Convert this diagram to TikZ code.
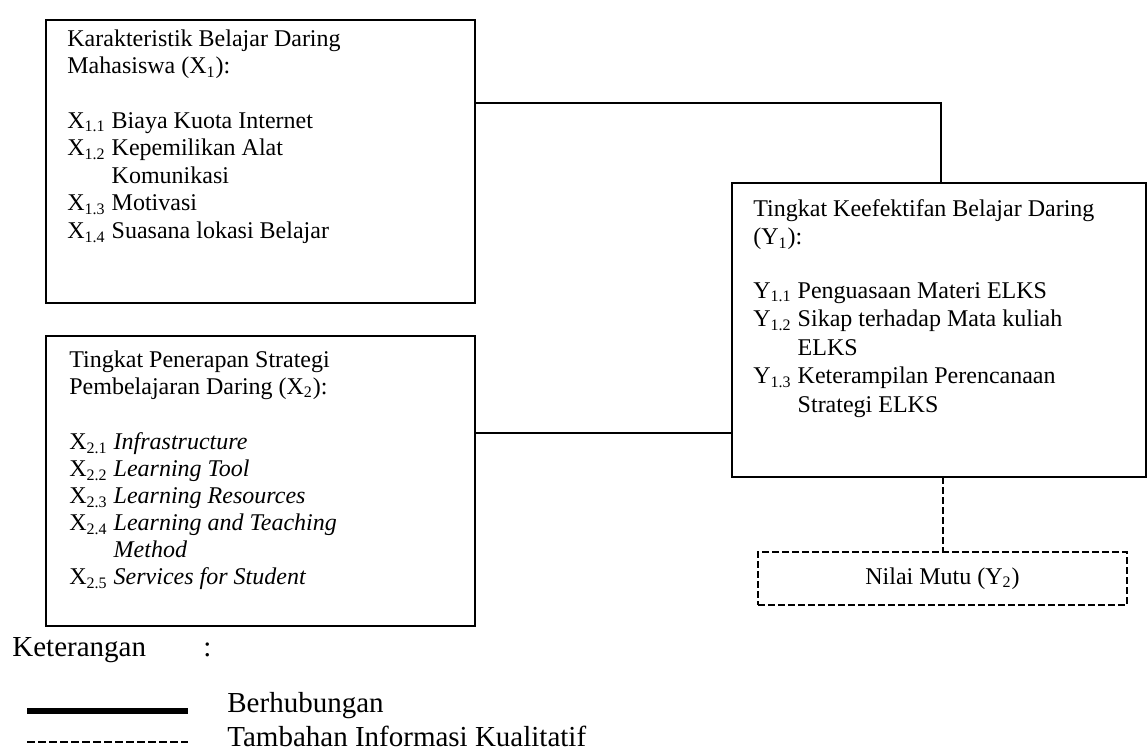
\documentclass[tikz,border=0pt]{standalone}
\usepackage{fontspec}
\setmainfont{Liberation Serif}
\tikzstyle{variable box}=[draw, line width=1.2pt, inner sep=0pt, outer sep=0pt, anchor=north west]
\tikzstyle{extra box}=[variable box, line width=1pt, dash pattern=on 3.5pt off 1.5pt, font=\fontsize{12}{13.8}\selectfont]
\tikzstyle{box text}=[anchor=base west, inner sep=0pt, font=\fontsize{12}{13.8}\selectfont]
\tikzstyle{legend text}=[anchor=base west, inner sep=0pt, font=\fontsize{14.5}{16}\selectfont]
\tikzstyle{link}=[line width=1pt]
\tikzstyle{extra link}=[line width=1pt, dash pattern=on 3.5pt off 1.5pt]
\newcommand{\hd}[1]{\multicolumn{2}{@{}l@{}}{#1}}
\newcommand{\sbs}[1]{\textsubscript{#1}}

\begin{document}
\begin{tikzpicture}[x=0.5pt, y=-0.5pt]
  \useasboundingbox (0,0) rectangle (1147,751);
  % variabel
  \node[variable box, minimum width=214.5pt, minimum height=141.5pt] (x1) at (46,20) {};
  \node[variable box, minimum width=214.5pt, minimum height=145pt] (x2) at (46,336) {};
  \node[variable box, minimum width=207pt, minimum height=147pt] (y1) at (732,183) {};
  \node[extra box, minimum width=184.5pt, minimum height=26.5pt] (y2) at (758,552)
    {Nilai Mutu (Y\sbs{2})};
  \node[box text] (x1 text) at (67,46) {\begin{tabular}[t]{@{}l@{ }l@{}}
    \hd{Karakteristik Belajar Daring}\\
    \hd{Mahasiswa (X\sbs{1}):}\\[13.4pt]
    X\sbs{1.1} & Biaya Kuota Internet\\
    X\sbs{1.2} & Kepemilikan Alat\\
               & Komunikasi\\
    X\sbs{1.3} & Motivasi\\
    X\sbs{1.4} & Suasana lokasi Belajar
  \end{tabular}};
  \node[box text, font=\fontsize{12}{13.5}\selectfont] (x2 text) at (69,367) {\begin{tabular}[t]{@{}l@{ }l@{}}
    \hd{Tingkat Penerapan Strategi}\\
    \hd{Pembelajaran Daring (X\sbs{2}):}\\[14.4pt]
    X\sbs{2.1} & \textit{Infrastructure}\\
    X\sbs{2.2} & \textit{Learning Tool}\\
    X\sbs{2.3} & \textit{Learning Resources}\\
    X\sbs{2.4} & \textit{Learning and Teaching}\\
               & \textit{Method}\\
    X\sbs{2.5} & \textit{Services for Student}
  \end{tabular}};
  \node[box text, font=\fontsize{12}{14.25}\selectfont] (y1 text) at (753,216) {\begin{tabular}[t]{@{}l@{ }l@{}}
    \hd{Tingkat Keefektifan Belajar Daring}\\
    \hd{(Y\sbs{1}):}\\[12.5pt]
    Y\sbs{1.1} & Penguasaan Materi ELKS\\
    Y\sbs{1.2} & Sikap terhadap Mata kuliah\\
               & ELKS\\
    Y\sbs{1.3} & Keterampilan Perencanaan\\
               & Strategi ELKS
  \end{tabular}};
  % hubungan
  \coordinate (x1 out) at (941,103);
  \coordinate (x2 out) at (600,433);
  \draw[link] (x1.east |- x1 out) -| (y1.north -| x1 out);
  \draw[link] (x2.east |- x2 out) -- (y1.west |- x2 out);
  \draw[extra link] (y1.south -| y2.north) -- (y2.north);
  % keterangan
  \node[legend text] (ket) at (12,656) {Keterangan};
  \node[legend text] (ket colon) at (203,656) {:};
  \node[legend text] (ket link) at (227,712) {Berhubungan};
  \node[legend text] (ket extra) at (227,746) {Tambahan Informasi Kualitatif};
  \draw[line width=3pt] (27,711) -- (188,711);
  \draw[line width=0.6pt, dash pattern=on 4pt off 1.5pt] (27,742) -- (188,742);
\end{tikzpicture}
\end{document}
